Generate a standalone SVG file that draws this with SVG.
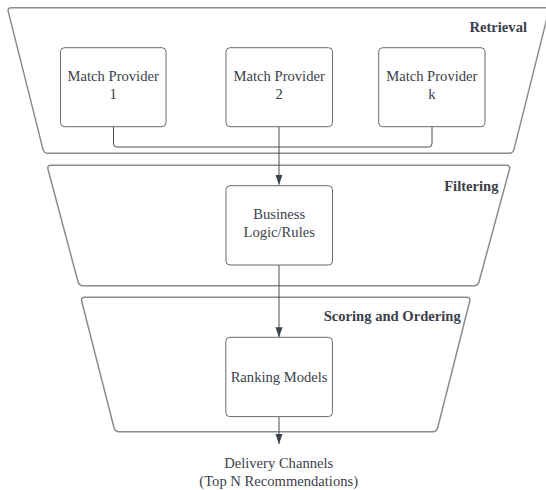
<svg xmlns="http://www.w3.org/2000/svg" width="546" height="490" viewBox="0 0 546 490">
<style>
.stage{fill:#ffffff;stroke:#8c8c8c;stroke-width:1.5}
.box{fill:#ffffff;stroke:#6b6b6b;stroke-width:1}
.t{font-family:"Liberation Serif","Times New Roman",serif;font-size:14.6px;fill:#3a414a;text-anchor:middle}
.h{font-family:"Liberation Serif","Times New Roman",serif;font-size:14.6px;font-weight:bold;fill:#3a414a;text-anchor:end}
.c{fill:none;stroke:#4a4f55;stroke-width:1}
</style>
<defs>
<marker id="arr" markerUnits="userSpaceOnUse" markerWidth="10" markerHeight="8" refX="10" refY="4" orient="auto">
<path d="M0,0.5 L10,4 L0,7.5 Z" fill="#3a414a"/>
</marker>
</defs>
<g id="stage-retrieval">
<path class="stage" d="M 11.3 7.7 H 545.6 Q 549.6 7.7 548.6 11.6 L 514 149.4 Q 513 153.3 509 153.3 H 48 Q 44 153.3 43 149.4 L 8.3 11.6 Q 7.3 7.7 11.3 7.7 Z"/>
<text class="h" x="527" y="31.5">Retrieval</text>
</g>
<g id="stage-filtering">
<path class="stage" d="M 51 165.3 H 506.5 Q 510.5 165.3 509.5 169.2 L 479 281.8 Q 478 285.7 474 285.7 H 83 Q 79 285.7 78 281.8 L 48 169.2 Q 47 165.3 51 165.3 Z"/>
<text class="h" x="498.5" y="190.5">Filtering</text>
</g>
<g id="stage-scoring">
<path class="stage" d="M 84.7 297.3 H 466.7 Q 470.7 297.3 469.7 301.2 L 437.7 427.8 Q 436.7 431.7 432.7 431.7 H 119 Q 115 431.7 114 427.8 L 81.7 301.2 Q 80.7 297.3 84.7 297.3 Z"/>
<text class="h" x="460.7" y="320.7">Scoring and Ordering</text>
</g>
<g id="connectors">
<path class="c" d="M 113.5 126.7 V 143.7 Q 113.5 147 116.8 147 H 428.7 Q 432 147 432 143.7 V 126.7"/>
<path class="c" d="M 279 126.7 V 184.8" marker-end="url(#arr)"/>
<path class="c" d="M 279 265 V 337.3" marker-end="url(#arr)"/>
<path class="c" d="M 279 416.7 V 444" marker-end="url(#arr)"/>
</g>
<g id="match-provider-1">
<rect class="box" x="60.5" y="47.7" width="105.5" height="79" rx="4"/>
<text class="t" x="113.2" y="81">Match Provider</text>
<text class="t" x="113.2" y="98.5">1</text>
</g>
<g id="match-provider-2">
<rect class="box" x="226" y="47.7" width="106.5" height="79" rx="4"/>
<text class="t" x="279.2" y="81">Match Provider</text>
<text class="t" x="279.2" y="98.5">2</text>
</g>
<g id="match-provider-k">
<rect class="box" x="378.7" y="47.7" width="106.3" height="79" rx="4"/>
<text class="t" x="431.8" y="81">Match Provider</text>
<text class="t" x="431.8" y="98.5">k</text>
</g>
<g id="business-logic">
<rect class="box" x="226" y="185.7" width="106.5" height="79.3" rx="4"/>
<text class="t" x="279.2" y="219">Business</text>
<text class="t" x="279.2" y="236.6">Logic/Rules</text>
</g>
<g id="ranking-models">
<rect class="box" x="225.8" y="337.3" width="106.6" height="79.3" rx="4"/>
<text class="t" x="279.1" y="381.5">Ranking Models</text>
</g>
<g id="delivery-channels">
<text class="t" x="278.7" y="468.3">Delivery Channels</text>
<text class="t" x="278.7" y="485.5">(Top N Recommendations)</text>
</g>
</svg>
